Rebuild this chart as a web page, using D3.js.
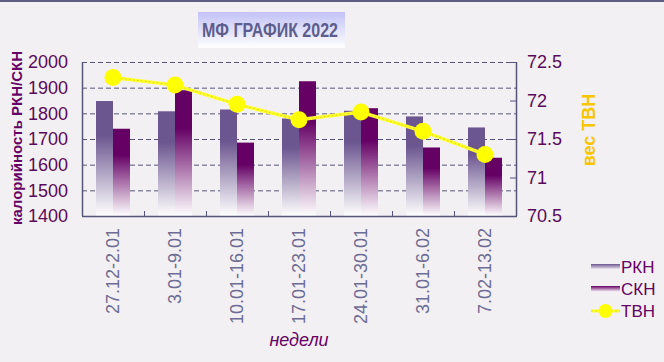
<!DOCTYPE html>
<html>
<head>
<meta charset="utf-8">
<script src="https://cdn.jsdelivr.net/npm/d3@7"></script>
<style>
  body { margin: 0; background: #f3f0f3; }
  svg { display: block; font-family: Arial, "Liberation Sans", sans-serif; }
</style>
</head>
<body>
<div id="chart"></div>
<script>
const weeks = ["27.12-2.01", "3.01-9.01", "10.01-16.01", "17.01-23.01", "24.01-30.01", "31.01-6.02", "7.02-13.02"];
const rkn = [1848, 1808, 1815, 1780, 1810, 1788, 1745];
const skn = [1740, 1890, 1686, 1925, 1820, 1667, 1627];
const tvn = [72.3, 72.2, 71.95, 71.75, 71.85, 71.6, 71.3];
const leftTicks = [1400, 1500, 1600, 1700, 1800, 1900, 2000];
const rightTicks = [70.5, 71, 71.5, 72, 72.5];

const W = 664, H = 362;
const plot = { left: 82, right: 516, top: 62, bottom: 216 };
const axisColor = "#55557a";
const labelColor = "#5a0a5a";

const svg = d3
  .select("#chart")
  .append("svg")
  .attr("width", W)
  .attr("height", H);

const defs = svg.append("defs");
function fade(id, c, mid) {
  const g = defs
    .append("linearGradient")
    .attr("id", id)
    .attr("x1", 0).attr("y1", 0).attr("x2", 0).attr("y2", 1);
  g.append("stop").attr("offset", 0).attr("stop-color", c);
  g.append("stop").attr("offset", mid).attr("stop-color", c);
  g.append("stop").attr("offset", 1).attr("stop-color", "#ffffff");
}
fade("gRkn", "#6c5690", 0.3);
fade("gSkn", "#650065", 0.3);
fade("gLegR", "#6c5690", 0);
fade("gLegS", "#650065", 0);
const tg = defs
  .append("linearGradient")
  .attr("id", "gTitle")
  .attr("x1", 0).attr("y1", 0).attr("x2", 0).attr("y2", 1);
tg.append("stop").attr("offset", 0).attr("stop-color", "#c2c2f7");
tg.append("stop").attr("offset", 1).attr("stop-color", "#ffffff");

// top border
svg.append("rect").attr("x", 0).attr("y", 0).attr("width", W).attr("height", 2).attr("fill", "#5c5c84");

// title
svg.append("rect")
  .attr("x", 198).attr("y", 12).attr("width", 147).attr("height", 36)
  .attr("fill", "url(#gTitle)");
svg.append("text")
  .attr("x", 202).attr("y", 37)
  .attr("font-weight", "bold")
  .attr("font-size", 21)
  .attr("fill", "#5e5e8e")
  .attr("textLength", 136)
  .attr("lengthAdjust", "spacingAndGlyphs")
  .text("МФ ГРАФИК 2022");

const x = d3.scaleBand(weeks, [plot.left, plot.right]);
const x1 = d3.scaleBand(["rkn", "skn"], [14, 48]);
const yL = d3.scaleLinear([1400, 2000], [plot.bottom, plot.top]);
const yR = d3.scaleLinear([70.5, 72.5], [plot.bottom, plot.top]);

// grid
svg.append("g")
  .selectAll("line")
  .data(leftTicks.slice(1))
  .join("line")
  .attr("x1", plot.left).attr("x2", plot.right)
  .attr("y1", (d) => yL(d) + 0.5).attr("y2", (d) => yL(d) + 0.5)
  .attr("stroke", axisColor)
  .attr("stroke-dasharray", "5,3");

// bars
const groups = svg.append("g")
  .selectAll("g")
  .data(weeks)
  .join("g")
  .attr("transform", (d) => `translate(${x(d)},0)`);
groups.append("rect")
  .attr("x", x1("rkn")).attr("width", x1.bandwidth())
  .attr("y", (d, i) => yL(rkn[i]))
  .attr("height", (d, i) => plot.bottom - yL(rkn[i]))
  .attr("fill", "url(#gRkn)");
groups.append("rect")
  .attr("x", x1("skn")).attr("width", x1.bandwidth())
  .attr("y", (d, i) => yL(skn[i]))
  .attr("height", (d, i) => plot.bottom - yL(skn[i]))
  .attr("fill", "url(#gSkn)");

// frame
svg.append("line")
  .attr("x1", plot.left + 0.5).attr("x2", plot.left + 0.5)
  .attr("y1", plot.top).attr("y2", plot.bottom)
  .attr("stroke", axisColor).attr("stroke-width", 1.5);
svg.append("line")
  .attr("x1", plot.right + 0.5).attr("x2", plot.right + 0.5)
  .attr("y1", plot.top).attr("y2", plot.bottom)
  .attr("stroke", axisColor).attr("stroke-width", 1.5);
svg.append("line")
  .attr("x1", plot.left).attr("x2", plot.right + 1)
  .attr("y1", plot.bottom + 0.5).attr("y2", plot.bottom + 0.5)
  .attr("stroke", axisColor).attr("stroke-width", 1.5);
svg.append("g")
  .selectAll("line")
  .data(weeks.slice(1))
  .join("line")
  .attr("x1", (d) => x(d) + 0.5).attr("x2", (d) => x(d) + 0.5)
  .attr("y1", plot.bottom - 5).attr("y2", plot.bottom)
  .attr("stroke", axisColor);

// left axis
const axL = svg.append("g")
  .attr("transform", `translate(${plot.left},0)`)
  .call(d3.axisLeft(yL).tickValues(leftTicks).tickSize(0).tickPadding(14).tickFormat((d) => d));
axL.select(".domain").remove();
axL.selectAll("text")
  .attr("font-size", 18)
  .attr("font-family", "Arial, 'Liberation Sans', sans-serif")
  .attr("fill", labelColor);

// right axis
const axR = svg.append("g")
  .attr("transform", `translate(${plot.right},0)`)
  .call(d3.axisRight(yR).tickValues(rightTicks).tickSize(-6).tickPadding(11).tickFormat((d) => d));
axR.select(".domain").remove();
axR.selectAll("line").attr("stroke", axisColor);
axR.selectAll("text")
  .attr("font-size", 18)
  .attr("font-family", "Arial, 'Liberation Sans', sans-serif")
  .attr("fill", labelColor);

// x labels
svg.append("g")
  .selectAll("text")
  .data(weeks)
  .join("text")
  .attr("transform", (d) => `translate(${x(d) + x.bandwidth() / 2},228) rotate(-90)`)
  .attr("dy", "0.35em")
  .attr("text-anchor", "end")
  .attr("font-size", 18)
  .attr("fill", "#6c6c94")
  .text((d) => d);

// axis titles
svg.append("text")
  .attr("transform", "translate(17,138) rotate(-90)")
  .attr("dy", "0.35em")
  .attr("text-anchor", "middle")
  .attr("font-weight", "bold")
  .attr("font-size", 15)
  .attr("fill", "#650065")
  .text("калорийность РКН/СКН");
svg.append("text")
  .attr("transform", "translate(589,130) rotate(-90)")
  .attr("dy", "0.35em")
  .attr("text-anchor", "middle")
  .attr("font-weight", "bold")
  .attr("font-size", 18)
  .attr("fill", "#f7c600")
  .text("вес ТВН");
svg.append("text")
  .attr("x", (plot.left + plot.right) / 2).attr("y", 346)
  .attr("text-anchor", "middle")
  .attr("font-style", "italic")
  .attr("font-size", 18)
  .attr("fill", "#650065")
  .text("недели");

// TVN line
const cx = (d) => x(d) + x.bandwidth() / 2;
const line = d3.line().x((d, i) => cx(weeks[i])).y((d) => yR(d));
svg.append("path")
  .attr("d", line(tvn))
  .attr("fill", "none")
  .attr("stroke", "#ffff33")
  .attr("stroke-width", 3.5);
svg.append("path")
  .attr("d", line(tvn))
  .attr("fill", "none")
  .attr("stroke", "#e0e000")
  .attr("stroke-width", 1)
  .attr("stroke-dasharray", "2,2");
svg.append("g")
  .selectAll("circle")
  .data(tvn)
  .join("circle")
  .attr("cx", (d, i) => cx(weeks[i]))
  .attr("cy", (d) => yR(d))
  .attr("r", 8.5)
  .attr("fill", "#ffff00");

// legend
const legend = svg.append("g").attr("font-size", 17).attr("fill", "#650065");
legend.append("rect").attr("x", 591).attr("y", 264).attr("width", 29).attr("height", 6).attr("fill", "url(#gLegR)");
legend.append("rect").attr("x", 591).attr("y", 286).attr("width", 29).attr("height", 6).attr("fill", "url(#gLegS)");
legend.append("line").attr("x1", 591).attr("x2", 620).attr("y1", 311).attr("y2", 311)
  .attr("stroke", "#ffff33").attr("stroke-width", 3);
legend.append("line").attr("x1", 591).attr("x2", 620).attr("y1", 311).attr("y2", 311)
  .attr("stroke", "#e0e000").attr("stroke-width", 1).attr("stroke-dasharray", "2,2");
legend.append("circle").attr("cx", 605.5).attr("cy", 311).attr("r", 7).attr("fill", "#ffff00");
legend.selectAll("text")
  .data(["РКН", "СКН", "ТВН"])
  .join("text")
  .attr("x", 621)
  .attr("y", (d, i) => 267 + i * 22)
  .attr("dy", "0.35em")
  .text((d) => d);
</script>
</body>
</html>
